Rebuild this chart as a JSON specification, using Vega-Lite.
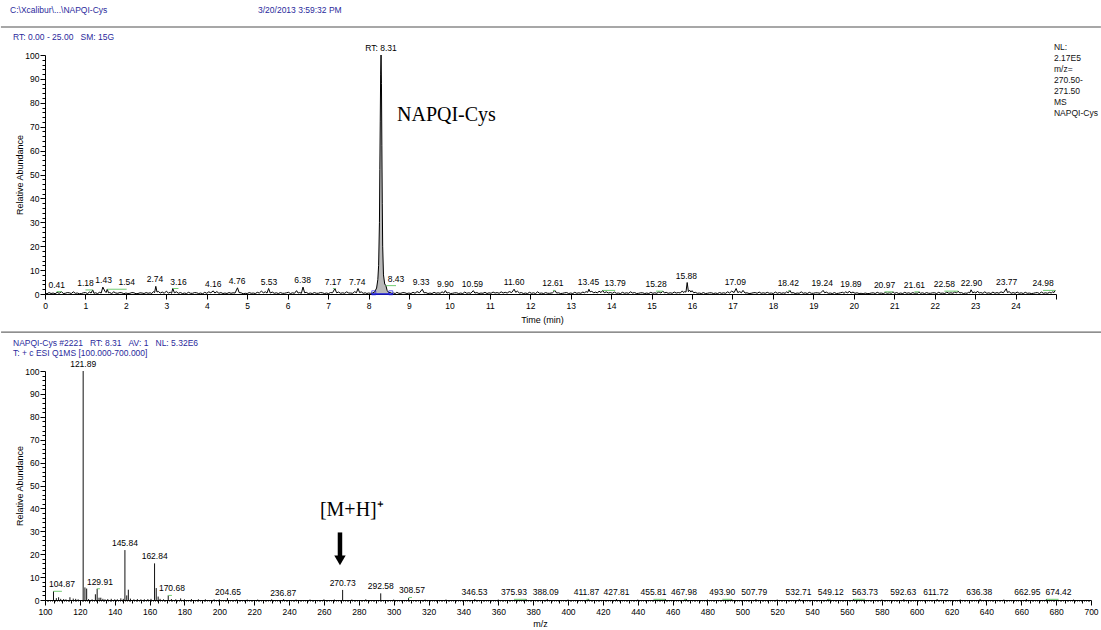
{
  "$schema": "https://vega.github.io/schema/vega-lite/v6.json",
  "background": "white",
  "padding": {"left": 0, "top": 6, "right": 0, "bottom": 0},
  "spacing": 77,
  "bounds": "flush",
  "config": {
    "font": "Liberation Sans",
    "view": {"stroke": null},
    "axis": {
      "grid": false,
      "labelFont": "Liberation Sans",
      "labelFontSize": 8.5,
      "labelColor": "#000",
      "titleFont": "Liberation Sans",
      "titleFontSize": 9,
      "titleFontWeight": "normal",
      "titleColor": "#000",
      "domainColor": "#000",
      "domainWidth": 1,
      "tickColor": "#000",
      "tickWidth": 1,
      "labelOverlap": false,
      "labelFlush": false
    }
  },
  "datasets": {
    "trace": [
      {"t":0,"v":0.3},{"t":0.05,"v":0.1},{"t":0.1,"v":0.6},{"t":0.15,"v":0.2},{"t":0.2,"v":0.4},{"t":0.25,"v":0.1},{"t":0.3,"v":0.7},{"t":0.35,"v":0.3},{"t":0.41,"v":1.0},{"t":0.45,"v":0.2},
      {"t":0.5,"v":0.3},{"t":0.55,"v":0.6},{"t":0.6,"v":0.5},{"t":0.65,"v":0.2},{"t":0.7,"v":0.9},{"t":0.75,"v":0.3},{"t":0.8,"v":0.4},{"t":0.85,"v":0.1},{"t":0.9,"v":0.2},{"t":0.95,"v":0.5},
      {"t":1.0,"v":0.6},{"t":1.05,"v":0.2},{"t":1.1,"v":0.8},{"t":1.14,"v":0.4},{"t":1.18,"v":1.7},{"t":1.21,"v":0.3},{"t":1.25,"v":0.5},{"t":1.3,"v":0.2},{"t":1.35,"v":0.7},{"t":1.39,"v":0.4},
      {"t":1.43,"v":2.9},{"t":1.48,"v":1.2},{"t":1.51,"v":0.6},{"t":1.54,"v":2.0},{"t":1.57,"v":0.5},{"t":1.6,"v":0.6},{"t":1.65,"v":0.2},{"t":1.7,"v":0.9},{"t":1.75,"v":0.4},{"t":1.8,"v":0.3},
      {"t":1.85,"v":0.6},{"t":1.9,"v":0.5},{"t":1.95,"v":0.1},{"t":2.0,"v":0.4},{"t":2.05,"v":0.2},{"t":2.1,"v":0.3},{"t":2.15,"v":0.6},{"t":2.2,"v":0.5},{"t":2.25,"v":0.1},{"t":2.3,"v":0.2},
      {"t":2.35,"v":0.5},{"t":2.4,"v":0.4},{"t":2.45,"v":0.2},{"t":2.5,"v":0.6},{"t":2.55,"v":0.3},{"t":2.6,"v":0.5},{"t":2.64,"v":0.2},{"t":2.68,"v":1.0},{"t":2.71,"v":0.6},{"t":2.74,"v":3.2},
      {"t":2.77,"v":0.8},{"t":2.8,"v":1.1},{"t":2.85,"v":0.4},{"t":2.9,"v":0.8},{"t":2.95,"v":0.3},{"t":3.0,"v":1.2},{"t":3.05,"v":0.4},{"t":3.1,"v":0.7},{"t":3.13,"v":0.3},{"t":3.16,"v":2.3},
      {"t":3.2,"v":0.5},{"t":3.25,"v":0.9},{"t":3.3,"v":0.3},{"t":3.35,"v":0.6},{"t":3.4,"v":0.2},{"t":3.45,"v":0.4},{"t":3.5,"v":0.2},{"t":3.55,"v":0.7},{"t":3.6,"v":0.3},{"t":3.65,"v":0.3},
      {"t":3.7,"v":0.6},{"t":3.75,"v":0.5},{"t":3.8,"v":0.2},{"t":3.85,"v":0.4},{"t":3.9,"v":0.1},{"t":3.95,"v":0.7},{"t":4.0,"v":0.3},{"t":4.05,"v":0.9},{"t":4.1,"v":0.5},{"t":4.16,"v":1.3},
      {"t":4.2,"v":0.4},{"t":4.25,"v":1.0},{"t":4.3,"v":0.3},{"t":4.35,"v":0.6},{"t":4.4,"v":0.2},{"t":4.45,"v":0.4},{"t":4.5,"v":0.2},{"t":4.55,"v":0.6},{"t":4.6,"v":0.3},{"t":4.65,"v":0.5},
      {"t":4.7,"v":0.4},{"t":4.76,"v":2.6},{"t":4.8,"v":0.6},{"t":4.85,"v":0.5},{"t":4.9,"v":0.1},{"t":4.95,"v":0.3},{"t":5.0,"v":0.2},{"t":5.05,"v":0.6},{"t":5.1,"v":0.3},{"t":5.15,"v":0.4},
      {"t":5.2,"v":0.2},{"t":5.25,"v":0.7},{"t":5.3,"v":0.4},{"t":5.35,"v":1.2},{"t":5.4,"v":0.5},{"t":5.45,"v":0.9},{"t":5.49,"v":0.4},{"t":5.53,"v":2.3},{"t":5.57,"v":0.4},{"t":5.62,"v":0.8},
      {"t":5.67,"v":0.3},{"t":5.72,"v":0.5},{"t":5.77,"v":0.2},{"t":5.82,"v":0.6},{"t":5.87,"v":0.3},{"t":5.92,"v":0.3},{"t":5.97,"v":0.5},{"t":6.02,"v":0.7},{"t":6.07,"v":0.2},{"t":6.12,"v":0.5},
      {"t":6.17,"v":0.3},{"t":6.22,"v":1.4},{"t":6.26,"v":0.4},{"t":6.3,"v":0.6},{"t":6.34,"v":0.3},{"t":6.38,"v":2.9},{"t":6.42,"v":0.5},{"t":6.46,"v":0.7},{"t":6.51,"v":0.2},{"t":6.56,"v":0.4},
      {"t":6.61,"v":0.2},{"t":6.66,"v":0.6},{"t":6.71,"v":0.3},{"t":6.76,"v":0.3},{"t":6.81,"v":0.6},{"t":6.86,"v":0.5},{"t":6.91,"v":0.2},{"t":6.96,"v":0.4},{"t":7.01,"v":0.2},{"t":7.06,"v":0.6},
      {"t":7.11,"v":0.5},{"t":7.17,"v":2.3},{"t":7.21,"v":0.5},{"t":7.26,"v":0.8},{"t":7.31,"v":0.3},{"t":7.36,"v":0.5},{"t":7.41,"v":0.3},{"t":7.46,"v":0.9},{"t":7.51,"v":0.4},{"t":7.56,"v":0.4},
      {"t":7.61,"v":0.3},{"t":7.66,"v":1.0},{"t":7.7,"v":0.5},{"t":7.74,"v":2.3},{"t":7.78,"v":0.6},{"t":7.82,"v":0.9},{"t":7.87,"v":0.3},{"t":7.92,"v":0.5},{"t":7.96,"v":0.2},{"t":8.0,"v":0.4},
      {"t":8.05,"v":0.3},
      {"t":8.1,"v":0.4},{"t":8.15,"v":0.8},{"t":8.2,"v":2.5},{"t":8.23,"v":6},{"t":8.25,"v":12},{"t":8.27,"v":30},{"t":8.28,"v":52},{"t":8.29,"v":72},{"t":8.3,"v":92},{"t":8.31,"v":100},
      {"t":8.32,"v":88},{"t":8.33,"v":62},{"t":8.34,"v":38},{"t":8.35,"v":20},{"t":8.37,"v":8},{"t":8.4,"v":4.2},{"t":8.43,"v":3.5},{"t":8.46,"v":1.5},{"t":8.5,"v":0.6},
      {"t":8.55,"v":0.6},{"t":8.58,"v":0.2},{"t":8.62,"v":0.4},{"t":8.66,"v":0.2},{"t":8.7,"v":0.7},{"t":8.75,"v":0.3},{"t":8.8,"v":0.3},{"t":8.85,"v":0.6},{"t":8.9,"v":0.5},{"t":8.95,"v":0.2},
      {"t":9.0,"v":0.4},{"t":9.05,"v":0.2},{"t":9.1,"v":0.7},{"t":9.15,"v":0.3},{"t":9.2,"v":1.0},{"t":9.26,"v":0.5},{"t":9.33,"v":2.0},{"t":9.37,"v":0.5},{"t":9.42,"v":0.6},{"t":9.47,"v":0.2},
      {"t":9.52,"v":0.4},{"t":9.57,"v":0.2},{"t":9.62,"v":0.7},{"t":9.67,"v":0.3},{"t":9.72,"v":0.5},{"t":9.77,"v":0.3},{"t":9.82,"v":0.9},{"t":9.86,"v":0.4},{"t":9.9,"v":1.4},{"t":9.94,"v":0.4},
      {"t":9.98,"v":0.6},{"t":10.03,"v":0.2},{"t":10.08,"v":0.3},{"t":10.13,"v":0.5},{"t":10.18,"v":0.5},{"t":10.23,"v":0.2},{"t":10.28,"v":0.4},{"t":10.33,"v":0.2},{"t":10.38,"v":0.8},{"t":10.43,"v":0.3},
      {"t":10.48,"v":0.5},{"t":10.53,"v":0.3},{"t":10.59,"v":1.4},{"t":10.63,"v":0.4},{"t":10.68,"v":0.6},{"t":10.73,"v":0.2},{"t":10.78,"v":0.4},{"t":10.83,"v":0.3},{"t":10.88,"v":0.7},{"t":10.93,"v":0.2},
      {"t":10.98,"v":0.5},{"t":11.03,"v":0.3},{"t":11.08,"v":0.8},{"t":11.13,"v":0.4},{"t":11.18,"v":0.6},{"t":11.23,"v":0.3},{"t":11.28,"v":0.9},{"t":11.33,"v":0.4},{"t":11.38,"v":0.7},{"t":11.43,"v":0.4},
      {"t":11.48,"v":1.0},{"t":11.54,"v":0.6},{"t":11.6,"v":2.0},{"t":11.64,"v":0.7},{"t":11.68,"v":1.2},{"t":11.73,"v":0.4},{"t":11.78,"v":0.6},{"t":11.83,"v":0.2},{"t":11.88,"v":0.4},{"t":11.93,"v":0.2},
      {"t":11.98,"v":0.7},{"t":12.03,"v":0.3},{"t":12.08,"v":0.5},{"t":12.13,"v":0.2},{"t":12.18,"v":0.9},{"t":12.23,"v":0.3},{"t":12.28,"v":0.4},{"t":12.33,"v":0.2},{"t":12.38,"v":0.6},{"t":12.43,"v":0.3},
      {"t":12.48,"v":0.3},{"t":12.55,"v":0.5},{"t":12.61,"v":1.5},{"t":12.65,"v":0.4},{"t":12.7,"v":0.5},{"t":12.75,"v":0.2},{"t":12.8,"v":0.3},{"t":12.85,"v":0.5},{"t":12.9,"v":0.6},{"t":12.95,"v":0.2},
      {"t":13.0,"v":0.4},{"t":13.05,"v":0.2},{"t":13.1,"v":0.7},{"t":13.15,"v":0.3},{"t":13.2,"v":0.5},{"t":13.25,"v":0.3},{"t":13.3,"v":0.8},{"t":13.34,"v":0.5},{"t":13.38,"v":1.0},{"t":13.42,"v":0.7},
      {"t":13.45,"v":2.0},{"t":13.48,"v":0.9},{"t":13.52,"v":1.1},{"t":13.57,"v":0.5},{"t":13.62,"v":0.8},{"t":13.66,"v":0.4},{"t":13.7,"v":1.2},{"t":13.75,"v":0.6},{"t":13.79,"v":1.5},{"t":13.83,"v":0.5},
      {"t":13.88,"v":0.9},{"t":13.93,"v":0.4},{"t":13.98,"v":0.6},{"t":14.03,"v":0.3},{"t":14.08,"v":0.8},{"t":14.13,"v":0.3},{"t":14.18,"v":0.4},{"t":14.23,"v":0.2},{"t":14.28,"v":0.7},{"t":14.33,"v":0.3},
      {"t":14.38,"v":0.5},{"t":14.43,"v":0.3},{"t":14.48,"v":0.9},{"t":14.53,"v":0.4},{"t":14.58,"v":0.6},{"t":14.63,"v":0.2},{"t":14.68,"v":0.3},{"t":14.73,"v":0.5},{"t":14.78,"v":0.5},{"t":14.83,"v":0.2},
      {"t":14.88,"v":0.4},{"t":14.93,"v":0.2},{"t":14.98,"v":0.7},{"t":15.03,"v":0.3},{"t":15.08,"v":0.5},{"t":15.13,"v":0.3},{"t":15.18,"v":0.9},{"t":15.23,"v":0.4},{"t":15.28,"v":1.2},{"t":15.32,"v":0.4},
      {"t":15.36,"v":0.7},{"t":15.41,"v":0.3},{"t":15.46,"v":0.5},{"t":15.51,"v":0.3},{"t":15.56,"v":0.8},{"t":15.61,"v":0.4},{"t":15.66,"v":0.6},{"t":15.71,"v":0.4},{"t":15.76,"v":1.3},{"t":15.79,"v":0.6},
      {"t":15.82,"v":1.0},{"t":15.85,"v":0.8},{"t":15.88,"v":4.8},{"t":15.91,"v":1.0},{"t":15.94,"v":1.6},{"t":15.97,"v":0.8},{"t":16.0,"v":1.4},{"t":16.04,"v":0.5},{"t":16.08,"v":0.7},{"t":16.13,"v":0.3},
      {"t":16.18,"v":0.4},{"t":16.23,"v":0.2},{"t":16.28,"v":0.6},{"t":16.33,"v":0.2},{"t":16.38,"v":0.3},{"t":16.43,"v":0.5},{"t":16.48,"v":0.5},{"t":16.53,"v":0.2},{"t":16.58,"v":0.4},{"t":16.63,"v":0.2},
      {"t":16.68,"v":0.6},{"t":16.73,"v":0.3},{"t":16.78,"v":0.5},{"t":16.83,"v":0.3},{"t":16.88,"v":0.9},{"t":16.93,"v":0.4},{"t":16.98,"v":1.2},{"t":17.04,"v":0.6},{"t":17.09,"v":2.3},{"t":17.13,"v":0.6},
      {"t":17.18,"v":1.0},{"t":17.22,"v":0.5},{"t":17.26,"v":1.5},{"t":17.31,"v":0.4},{"t":17.36,"v":0.5},{"t":17.41,"v":0.2},{"t":17.46,"v":0.3},{"t":17.51,"v":0.5},{"t":17.56,"v":0.6},{"t":17.61,"v":0.3},
      {"t":17.66,"v":0.8},{"t":17.71,"v":0.3},{"t":17.76,"v":0.5},{"t":17.81,"v":0.3},{"t":17.86,"v":0.7},{"t":17.91,"v":0.3},{"t":17.96,"v":0.4},{"t":18.01,"v":0.2},{"t":18.06,"v":0.8},{"t":18.11,"v":0.3},
      {"t":18.16,"v":0.6},{"t":18.21,"v":0.3},{"t":18.26,"v":0.5},{"t":18.3,"v":0.3},{"t":18.34,"v":0.9},{"t":18.38,"v":0.5},{"t":18.42,"v":1.5},{"t":18.46,"v":0.4},{"t":18.5,"v":0.6},{"t":18.55,"v":0.2},
      {"t":18.6,"v":0.4},{"t":18.65,"v":0.3},{"t":18.7,"v":0.9},{"t":18.75,"v":0.3},{"t":18.8,"v":0.5},{"t":18.85,"v":0.2},{"t":18.9,"v":0.7},{"t":18.95,"v":0.3},{"t":19.0,"v":0.3},{"t":19.05,"v":0.5},
      {"t":19.1,"v":0.5},{"t":19.17,"v":0.3},{"t":19.24,"v":1.5},{"t":19.28,"v":0.5},{"t":19.32,"v":0.8},{"t":19.37,"v":0.3},{"t":19.42,"v":0.4},{"t":19.47,"v":0.2},{"t":19.52,"v":0.6},{"t":19.57,"v":0.2},
      {"t":19.62,"v":0.3},{"t":19.67,"v":0.5},{"t":19.72,"v":0.7},{"t":19.76,"v":0.3},{"t":19.8,"v":0.9},{"t":19.85,"v":0.4},{"t":19.89,"v":1.2},{"t":19.93,"v":0.4},{"t":19.98,"v":0.8},{"t":20.03,"v":0.3},
      {"t":20.08,"v":0.5},{"t":20.13,"v":0.2},{"t":20.18,"v":0.3},{"t":20.23,"v":0.1},{"t":20.28,"v":0.4},{"t":20.33,"v":0.2},{"t":20.38,"v":0.2},{"t":20.43,"v":0.4},{"t":20.48,"v":0.5},{"t":20.53,"v":0.2},
      {"t":20.58,"v":0.7},{"t":20.63,"v":0.3},{"t":20.68,"v":0.4},{"t":20.73,"v":0.2},{"t":20.78,"v":0.6},{"t":20.83,"v":0.3},{"t":20.88,"v":0.5},{"t":20.93,"v":0.3},{"t":20.97,"v":0.9},{"t":21.01,"v":0.3},
      {"t":21.06,"v":0.6},{"t":21.11,"v":0.2},{"t":21.16,"v":0.4},{"t":21.21,"v":0.2},{"t":21.26,"v":0.7},{"t":21.31,"v":0.3},{"t":21.36,"v":0.5},{"t":21.41,"v":0.2},{"t":21.46,"v":0.6},{"t":21.5,"v":0.3},
      {"t":21.54,"v":0.4},{"t":21.58,"v":0.3},{"t":21.61,"v":0.9},{"t":21.65,"v":0.3},{"t":21.7,"v":0.5},{"t":21.75,"v":0.2},{"t":21.8,"v":0.6},{"t":21.85,"v":0.3},{"t":21.9,"v":0.3},{"t":21.95,"v":0.5},
      {"t":22.0,"v":0.5},{"t":22.05,"v":0.2},{"t":22.1,"v":0.7},{"t":22.15,"v":0.3},{"t":22.2,"v":0.4},{"t":22.25,"v":0.2},{"t":22.3,"v":0.8},{"t":22.35,"v":0.3},{"t":22.4,"v":0.5},{"t":22.45,"v":0.3},
      {"t":22.5,"v":0.9},{"t":22.54,"v":0.4},{"t":22.58,"v":1.2},{"t":22.62,"v":0.4},{"t":22.66,"v":0.6},{"t":22.71,"v":0.2},{"t":22.76,"v":0.4},{"t":22.8,"v":0.3},{"t":22.84,"v":0.7},{"t":22.87,"v":0.5},
      {"t":22.9,"v":1.75},{"t":22.94,"v":0.5},{"t":22.98,"v":0.8},{"t":23.02,"v":0.4},{"t":23.06,"v":1.2},{"t":23.1,"v":0.4},{"t":23.14,"v":0.6},{"t":23.19,"v":0.3},{"t":23.24,"v":0.9},{"t":23.29,"v":0.3},
      {"t":23.34,"v":0.5},{"t":23.39,"v":0.2},{"t":23.44,"v":0.8},{"t":23.49,"v":0.3},{"t":23.54,"v":0.6},{"t":23.59,"v":0.3},{"t":23.64,"v":0.9},{"t":23.7,"v":0.5},{"t":23.77,"v":2.2},{"t":23.8,"v":0.6},
      {"t":23.84,"v":1.0},{"t":23.89,"v":0.3},{"t":23.94,"v":0.6},{"t":23.99,"v":0.3},{"t":24.04,"v":0.8},{"t":24.09,"v":0.3},{"t":24.14,"v":0.5},{"t":24.19,"v":0.2},{"t":24.24,"v":0.7},{"t":24.29,"v":0.3},
      {"t":24.34,"v":0.4},{"t":24.39,"v":0.2},{"t":24.44,"v":0.3},{"t":24.49,"v":0.5},{"t":24.54,"v":0.6},{"t":24.59,"v":0.2},{"t":24.64,"v":0.8},{"t":24.69,"v":0.3},{"t":24.74,"v":0.5},{"t":24.79,"v":0.3},
      {"t":24.84,"v":0.7},{"t":24.88,"v":0.4},{"t":24.92,"v":0.9},{"t":24.95,"v":0.6},{"t":24.98,"v":1.5}
    ],
    "topLabels": [
      {"t":0.41,"lx":0.29,"v":1.0,"label":"0.41"},
      {"t":1.18,"lx":1.0,"v":1.7,"label":"1.18"},
      {"t":1.43,"lx":1.45,"v":2.9,"label":"1.43"},
      {"t":1.54,"lx":2.02,"v":2.0,"label":"1.54"},
      {"t":2.74,"lx":2.72,"v":3.2,"label":"2.74"},
      {"t":3.16,"lx":3.3,"v":2.3,"label":"3.16"},
      {"t":4.16,"lx":4.16,"v":1.3,"label":"4.16"},
      {"t":4.76,"lx":4.75,"v":2.6,"label":"4.76"},
      {"t":5.53,"lx":5.54,"v":2.3,"label":"5.53"},
      {"t":6.38,"lx":6.37,"v":2.9,"label":"6.38"},
      {"t":7.17,"lx":7.12,"v":2.3,"label":"7.17"},
      {"t":7.74,"lx":7.72,"v":2.3,"label":"7.74"},
      {"t":8.31,"lx":8.31,"v":100,"label":"RT: 8.31"},
      {"t":8.43,"lx":8.68,"v":3.5,"label":"8.43"},
      {"t":9.33,"lx":9.3,"v":2.0,"label":"9.33"},
      {"t":9.9,"lx":9.9,"v":1.4,"label":"9.90"},
      {"t":10.59,"lx":10.57,"v":1.4,"label":"10.59"},
      {"t":11.6,"lx":11.6,"v":2.0,"label":"11.60"},
      {"t":12.61,"lx":12.56,"v":1.5,"label":"12.61"},
      {"t":13.45,"lx":13.44,"v":2.0,"label":"13.45"},
      {"t":13.79,"lx":14.1,"v":1.5,"label":"13.79"},
      {"t":15.28,"lx":15.11,"v":1.2,"label":"15.28"},
      {"t":15.88,"lx":15.86,"v":4.8,"label":"15.88"},
      {"t":17.09,"lx":17.07,"v":2.3,"label":"17.09"},
      {"t":18.42,"lx":18.38,"v":1.5,"label":"18.42"},
      {"t":19.24,"lx":19.22,"v":1.5,"label":"19.24"},
      {"t":19.89,"lx":19.93,"v":1.2,"label":"19.89"},
      {"t":20.97,"lx":20.76,"v":0.9,"label":"20.97"},
      {"t":21.61,"lx":21.5,"v":0.9,"label":"21.61"},
      {"t":22.58,"lx":22.24,"v":1.2,"label":"22.58"},
      {"t":22.9,"lx":22.91,"v":1.75,"label":"22.90"},
      {"t":23.77,"lx":23.78,"v":2.2,"label":"23.77"},
      {"t":24.98,"lx":24.68,"v":1.5,"label":"24.98"}
    ],
    "baseMarks": [{"t":8.13,"v":0.5},{"t":8.55,"v":0.5}],
    "spec": [
      {"m":104.87,"v":3.8},{"m":106.5,"v":0.8},{"m":107.8,"v":1.2},{"m":109,"v":0.5},{"m":110.7,"v":0.4},{"m":112,"v":0.3},{"m":114.3,"v":1.2},{"m":116.2,"v":0.6},{"m":117.6,"v":0.5},{"m":119,"v":0.3},
      {"m":121.89,"v":100},{"m":122.9,"v":5.5},{"m":123.9,"v":5.0},{"m":125,"v":0.4},{"m":127,"v":0.3},{"m":128.9,"v":2.5},{"m":129.91,"v":4.9},{"m":131,"v":1.0},{"m":132,"v":1.0},{"m":133.2,"v":0.5},
      {"m":134.4,"v":0.3},{"m":136,"v":0.4},{"m":138,"v":0.5},{"m":140,"v":0.3},{"m":141.5,"v":0.3},{"m":143.5,"v":0.7},{"m":144.9,"v":0.5},{"m":145.84,"v":21.8},{"m":146.9,"v":2.0},{"m":147.8,"v":4.5},
      {"m":149,"v":0.6},{"m":151,"v":0.3},{"m":153,"v":0.4},{"m":155,"v":0.3},{"m":157,"v":0.3},{"m":159,"v":0.4},{"m":160.8,"v":0.5},{"m":162.84,"v":16.0},{"m":163.8,"v":5.2},{"m":164.9,"v":1.5},
      {"m":166,"v":0.5},{"m":168,"v":0.3},{"m":170.68,"v":2.0},{"m":172.5,"v":0.4},{"m":175,"v":0.3},{"m":177.8,"v":0.7},{"m":180,"v":0.3},{"m":184,"v":0.4},{"m":188,"v":0.3},{"m":192,"v":0.3},
      {"m":197,"v":0.3},{"m":200,"v":0.3},{"m":204.65,"v":0.8},{"m":210,"v":0.3},{"m":216,"v":0.2},{"m":222,"v":0.2},{"m":230,"v":0.3},{"m":236.87,"v":0.4},{"m":244,"v":0.2},{"m":252,"v":0.2},
      {"m":260,"v":0.3},{"m":266,"v":0.2},{"m":270.73,"v":4.4},{"m":276,"v":0.2},{"m":284,"v":0.3},{"m":292.58,"v":2.9},{"m":300,"v":0.2},{"m":308.57,"v":0.8},{"m":318,"v":0.2},{"m":330,"v":0.2},
      {"m":346.53,"v":0.4},{"m":360,"v":0.2},{"m":375.93,"v":0.4},{"m":388.09,"v":0.4},{"m":400,"v":0.2},{"m":411.87,"v":0.4},{"m":427.81,"v":0.4},{"m":440,"v":0.2},{"m":455.81,"v":0.4},{"m":467.98,"v":0.4},
      {"m":480,"v":0.2},{"m":493.9,"v":0.4},{"m":507.79,"v":0.4},{"m":520,"v":0.2},{"m":532.71,"v":0.4},{"m":549.12,"v":0.4},{"m":563.73,"v":0.4},{"m":580,"v":0.2},{"m":592.63,"v":0.4},{"m":611.72,"v":0.4},
      {"m":625,"v":0.2},{"m":636.38,"v":0.4},{"m":650,"v":0.2},{"m":662.95,"v":0.4},{"m":674.42,"v":0.4},{"m":690,"v":0.2}
    ],
    "specLabels": [
      {"m":104.87,"lx":109.7,"v":3.8,"label":"104.87"},
      {"m":121.89,"lx":121.89,"v":100,"label":"121.89"},
      {"m":129.91,"lx":131.5,"v":4.9,"label":"129.91"},
      {"m":145.84,"lx":145.84,"v":21.8,"label":"145.84"},
      {"m":162.84,"lx":162.9,"v":16.0,"label":"162.84"},
      {"m":170.68,"lx":172.8,"v":2.0,"label":"170.68"},
      {"m":204.65,"lx":205.0,"v":0.6,"label":"204.65"},
      {"m":236.87,"lx":236.6,"v":0.2,"label":"236.87"},
      {"m":270.73,"lx":270.73,"v":4.4,"label":"270.73"},
      {"m":292.58,"lx":292.58,"v":2.9,"label":"292.58"},
      {"m":308.57,"lx":310.5,"v":1.1,"label":"308.57"},
      {"m":346.53,"lx":346.4,"v":0.3,"label":"346.53"},
      {"m":375.93,"lx":369.0,"v":0.3,"label":"375.93"},
      {"m":388.09,"lx":387.2,"v":0.3,"label":"388.09"},
      {"m":411.87,"lx":410.6,"v":0.3,"label":"411.87"},
      {"m":427.81,"lx":427.81,"v":0.3,"label":"427.81"},
      {"m":455.81,"lx":449.0,"v":0.3,"label":"455.81"},
      {"m":467.98,"lx":466.5,"v":0.3,"label":"467.98"},
      {"m":493.9,"lx":488.5,"v":0.3,"label":"493.90"},
      {"m":507.79,"lx":506.8,"v":0.3,"label":"507.79"},
      {"m":532.71,"lx":532.2,"v":0.3,"label":"532.71"},
      {"m":549.12,"lx":550.7,"v":0.3,"label":"549.12"},
      {"m":563.73,"lx":570.4,"v":0.3,"label":"563.73"},
      {"m":592.63,"lx":592.3,"v":0.3,"label":"592.63"},
      {"m":611.72,"lx":611.0,"v":0.3,"label":"611.72"},
      {"m":636.38,"lx":635.9,"v":0.3,"label":"636.38"},
      {"m":662.95,"lx":663.5,"v":0.3,"label":"662.95"},
      {"m":674.42,"lx":681.4,"v":0.3,"label":"674.42"}
    ]
  },
  "vconcat": [
    {
      "width": 1011,
      "height": 239,
      "layer": [
        {
          "data": {"name": "trace"},
          "transform": [{"filter": "datum.t >= 8.1 && datum.t <= 8.5"}],
          "mark": {"type": "area", "color": "#b9b9b9"},
          "encoding": {
            "x": {"field": "t", "type": "quantitative", "title": "Time (min)"},
            "y": {"field": "v", "type": "quantitative", "title": "Relative Abundance"}
          }
        },
        {
          "data": {"name": "trace"},
          "mark": {"type": "line", "color": "#000", "strokeWidth": 1},
          "encoding": {
            "x": {
              "field": "t", "type": "quantitative", "title": "Time (min)",
              "scale": {"domain": [0, 25], "nice": false, "zero": false},
              "axis": {
                "tickCount": 125, "format": "d",
                "labelExpr": "datum.value % 1 === 0 && datum.value < 25 ? datum.label : ''",
                "tickSize": {"condition": {"test": "datum.value % 1 === 0", "value": 5}, "value": 3},
                "labelPadding": 2, "titlePadding": 6, "titleX": 497
              }
            },
            "y": {
              "field": "v", "type": "quantitative", "title": "Relative Abundance",
              "scale": {"domain": [0, 100], "nice": false},
              "axis": {
                "tickCount": 50,
                "labelExpr": "datum.value % 10 === 0 ? datum.label : ''",
                "tickSize": {"condition": {"test": "datum.value % 10 === 0", "value": 5}, "value": 3},
                "labelPadding": 1, "titlePadding": 0
              }
            }
          }
        },
        {
          "data": {"values": [{}]},
          "mark": {"type": "rule", "color": "#1c1ce0", "strokeWidth": 1.5},
          "encoding": {"x": {"datum": 8.08}, "x2": {"datum": 8.6}, "y": {"datum": 0}}
        },
        {
          "data": {"name": "baseMarks"},
          "mark": {"type": "point", "shape": "square", "filled": false, "color": "#1c1ce0", "size": 16, "strokeWidth": 1},
          "encoding": {
            "x": {"field": "t", "type": "quantitative", "title": "Time (min)"},
            "y": {"field": "v", "type": "quantitative", "title": "Relative Abundance"}
          }
        },
        {
          "data": {"name": "topLabels"},
          "transform": [{"filter": "abs(datum.lx - datum.t) > 0.04"}],
          "mark": {"type": "rule", "color": "#72cc72", "strokeWidth": 1},
          "encoding": {
            "x": {"field": "lx", "type": "quantitative", "title": "Time (min)"},
            "x2": {"field": "t"},
            "y": {"field": "v", "type": "quantitative", "title": "Relative Abundance"}
          }
        },
        {
          "data": {"name": "topLabels"},
          "mark": {"type": "text", "baseline": "bottom", "dy": -2, "fontSize": 8.5, "color": "#000"},
          "encoding": {
            "x": {"field": "lx", "type": "quantitative", "title": "Time (min)"},
            "y": {"field": "v", "type": "quantitative", "title": "Relative Abundance"},
            "text": {"field": "label"}
          }
        },
        {
          "data": {"values": [{}]},
          "mark": {"type": "text", "align": "left", "baseline": "middle", "font": "Liberation Serif", "fontSize": 20, "color": "#000"},
          "encoding": {"x": {"datum": 8.704}, "y": {"datum": 74.9}, "text": {"value": "NAPQI-Cys"}}
        },
        {
          "data": {"values": [{}]},
          "mark": {"type": "text", "align": "left", "baseline": "top", "fontSize": 8.5, "lineHeight": 11, "color": "#111"},
          "encoding": {"x": {"datum": 24.95}, "y": {"datum": 105.0}, "text": {"value": ["NL:", "2.17E5", "m/z=", "270.50-", "271.50", "MS", "NAPQI-Cys"]}}
        },
        {
          "data": {"values": [{}]},
          "mark": {"type": "text", "align": "left", "baseline": "middle", "fontSize": 8.5, "color": "#2a2a9c"},
          "encoding": {"x": {"datum": -0.865}, "y": {"datum": 118.8}, "text": {"value": "C:\\Xcalibur\\...\\NAPQI-Cys"}}
        },
        {
          "data": {"values": [{}]},
          "mark": {"type": "text", "align": "left", "baseline": "middle", "fontSize": 8.5, "color": "#2a2a9c"},
          "encoding": {"x": {"datum": 5.267}, "y": {"datum": 118.8}, "text": {"value": "3/20/2013 3:59:32 PM"}}
        },
        {
          "data": {"values": [{}]},
          "mark": {"type": "rule", "color": "#8a8a8a", "strokeWidth": 1.5},
          "encoding": {"x": {"datum": -1.09}, "x2": {"datum": 26.11}, "y": {"datum": 111.7}}
        },
        {
          "data": {"values": [{}]},
          "mark": {"type": "text", "align": "left", "baseline": "middle", "fontSize": 8.5, "color": "#2a2a9c"},
          "encoding": {"x": {"datum": -0.79}, "y": {"datum": 107.5}, "text": {"value": "RT: 0.00 - 25.00\u00a0\u00a0\u00a0SM: 15G"}}
        }
      ]
    },
    {
      "width": 1046,
      "height": 229,
      "layer": [
        {
          "data": {"name": "spec"},
          "mark": {"type": "rule", "color": "#111", "strokeWidth": 1},
          "encoding": {
            "x": {
              "field": "m", "type": "quantitative", "title": "m/z",
              "scale": {"domain": [100, 700], "nice": false, "zero": false},
              "axis": {
                "tickCount": 600, "format": "d",
                "labelExpr": "datum.value % 20 === 0 ? datum.label : ''",
                "tickSize": {"condition": [{"test": "datum.value % 20 === 0", "value": 5}, {"test": "datum.value % 5 === 0", "value": 3}], "value": 1},
                "labelPadding": 2, "titlePadding": 4, "titleX": 495
              }
            },
            "y": {
              "field": "v", "type": "quantitative", "title": "Relative Abundance",
              "scale": {"domain": [0, 100], "nice": false},
              "axis": {
                "tickCount": 50,
                "labelExpr": "datum.value % 10 === 0 ? datum.label : ''",
                "tickSize": {"condition": {"test": "datum.value % 10 === 0", "value": 5}, "value": 3},
                "labelPadding": 1, "titlePadding": 0
              }
            },
            "y2": {"datum": 0}
          }
        },
        {
          "data": {"name": "specLabels"},
          "transform": [{"filter": "abs(datum.lx - datum.m) > 1"}],
          "mark": {"type": "rule", "color": "#72cc72", "strokeWidth": 1},
          "encoding": {
            "x": {"field": "lx", "type": "quantitative", "title": "m/z"},
            "x2": {"field": "m"},
            "y": {"field": "v", "type": "quantitative", "title": "Relative Abundance"}
          }
        },
        {
          "data": {"name": "specLabels"},
          "mark": {"type": "text", "baseline": "bottom", "dy": -2, "fontSize": 8.5, "color": "#000"},
          "encoding": {
            "x": {"field": "lx", "type": "quantitative", "title": "m/z"},
            "y": {"field": "v", "type": "quantitative", "title": "Relative Abundance"},
            "text": {"field": "label"}
          }
        },
        {
          "data": {"values": [{}]},
          "mark": {"type": "text", "align": "left", "baseline": "middle", "font": "Liberation Serif", "fontSize": 20, "color": "#000"},
          "encoding": {"x": {"datum": 257.7}, "y": {"datum": 39.3}, "text": {"value": "[M+H]⁺"}}
        },
        {
          "data": {"values": [{}]},
          "mark": {"type": "rule", "color": "#000", "strokeWidth": 4.5},
          "encoding": {"x": {"datum": 269.2}, "y": {"datum": 29.5}, "y2": {"datum": 19.0}}
        },
        {
          "data": {"values": [{}]},
          "mark": {"type": "point", "shape": "triangle-down", "filled": true, "color": "#000", "size": 130, "opacity": 1},
          "encoding": {"x": {"datum": 269.2}, "y": {"datum": 17.3}}
        },
        {
          "data": {"values": [{}]},
          "mark": {"type": "rule", "color": "#6a6a6a", "strokeWidth": 1.2},
          "encoding": {"x": {"datum": 74.8}, "x2": {"datum": 705.8}, "y": {"datum": 117.0}}
        },
        {
          "data": {"values": [{}]},
          "mark": {"type": "text", "align": "left", "baseline": "middle", "fontSize": 8.5, "color": "#2a2a9c"},
          "encoding": {"x": {"datum": 81.64}, "y": {"datum": 112.2}, "text": {"value": "NAPQI-Cys #2221\u00a0\u00a0\u00a0RT: 8.31\u00a0\u00a0\u00a0AV: 1\u00a0\u00a0\u00a0NL: 5.32E6"}}
        },
        {
          "data": {"values": [{}]},
          "mark": {"type": "text", "align": "left", "baseline": "middle", "fontSize": 8.5, "color": "#2a2a9c"},
          "encoding": {"x": {"datum": 81.64}, "y": {"datum": 107.9}, "text": {"value": "T: + c ESI Q1MS [100.000-700.000]"}}
        }
      ]
    }
  ]
}
